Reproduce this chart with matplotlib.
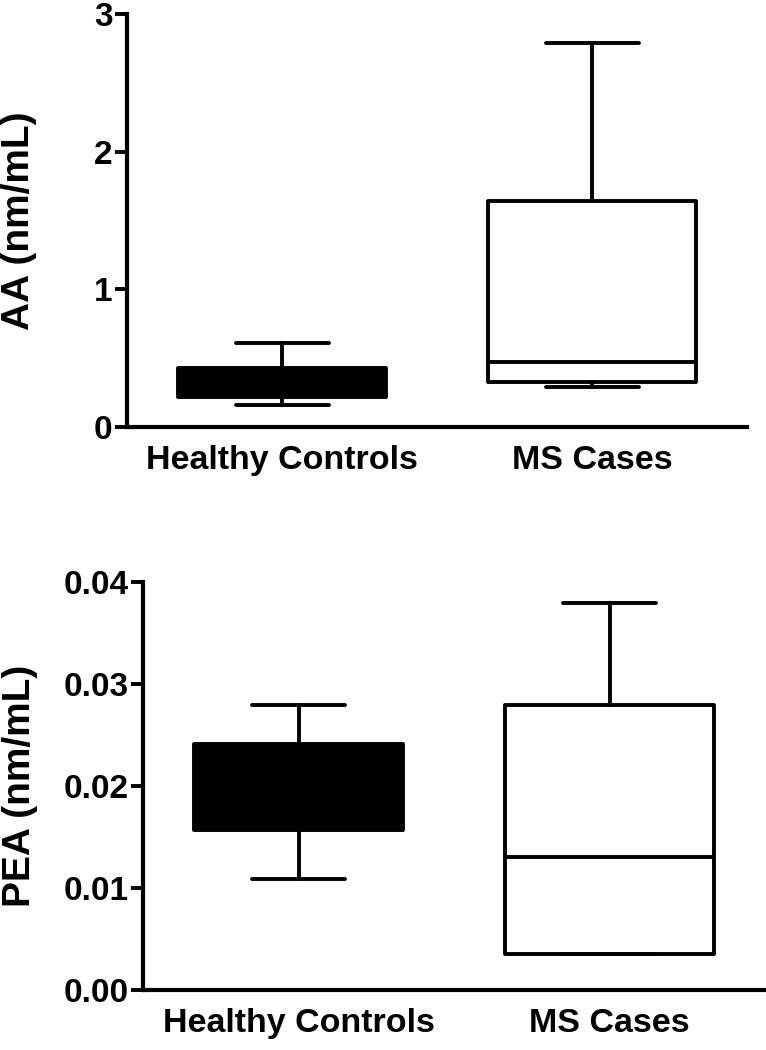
import matplotlib
matplotlib.use("Agg")
import matplotlib.pyplot as plt

plt.rcParams['font.family'] = ['Liberation Sans', 'DejaVu Sans']
plt.rcParams['font.weight'] = 'bold'

categories = ["Healthy Controls", "MS Cases"]

# AA (nm/mL): whisker low, q1, median, q3, whisker high
aa_whislo = [0.16, 0.29]
aa_q1 = [0.22, 0.33]
aa_med = [0.32, 0.47]
aa_q3 = [0.43, 1.64]
aa_whishi = [0.61, 2.79]

# PEA (nm/mL)
pea_whislo = [0.0109, 0.0035]
pea_q1 = [0.0157, 0.0035]
pea_med = [0.020, 0.0130]
pea_q3 = [0.0241, 0.0279]
pea_whishi = [0.0279, 0.0379]

aa_ticks = [0, 1, 2, 3]
aa_ticklabels = ["0", "1", "2", "3"]
pea_ticks = [0.00, 0.01, 0.02, 0.03, 0.04]
pea_ticklabels = ["0.00", "0.01", "0.02", "0.03", "0.04"]

fill_colors = ["black", "white"]

fig = plt.figure(figsize=(7.66, 10.5), dpi=100)
ax1 = fig.add_axes([127/766, 1-427/1050, (747-127)/766, (427-14)/1050])
ax2 = fig.add_axes([143/766, 1-990/1050, (765-143)/766, (990-581.7)/1050])

LW = 2.8

def draw(ax, whislo, q1, med, q3, whishi, ylim, ticks, ticklabels, ylabel, labelx):
    stats = []
    for i, c in enumerate(categories):
        stats.append(dict(label=c, whislo=whislo[i], q1=q1[i], med=med[i],
                          q3=q3[i], whishi=whishi[i], fliers=[]))
    bp = ax.bxp(stats, positions=[0, 1], widths=0.67, patch_artist=True,
                showfliers=False,
                boxprops=dict(linewidth=LW, edgecolor='black', joinstyle='round'),
                whiskerprops=dict(linewidth=LW, color='black'),
                capprops=dict(linewidth=LW, color='black', solid_capstyle='round'),
                medianprops=dict(linewidth=LW, color='black'),
                capwidths=0.3)
    for patch, fc in zip(bp['boxes'], fill_colors):
        patch.set_facecolor(fc)
    ax.set_xlim(-0.5, 1.5)
    ax.set_ylim(*ylim)
    ax.set_yticks(ticks)
    ax.set_yticklabels(ticklabels, fontsize=24, fontweight='bold')
    ax.set_xticks([0, 1])
    ax.set_xticklabels(categories, fontsize=24.5, fontweight='bold')
    ax.tick_params(axis='x', length=0, pad=13)
    ax.tick_params(axis='y', length=8.5, width=LW, pad=2)
    for s in ['top', 'right']:
        ax.spines[s].set_visible(False)
    for s in ['left', 'bottom']:
        ax.spines[s].set_linewidth(3.0)
        ax.spines[s].set_capstyle('projecting')
    ax.set_ylabel(ylabel, fontsize=28, fontweight='bold')
    ax.yaxis.set_label_coords(labelx, 0.5)

draw(ax1, aa_whislo, aa_q1, aa_med, aa_q3, aa_whishi, (0, 3), aa_ticks,
     aa_ticklabels, "AA (nm/mL)", -0.145)
draw(ax2, pea_whislo, pea_q1, pea_med, pea_q3, pea_whishi, (0, 0.04), pea_ticks,
     pea_ticklabels, "PEA (nm/mL)", -0.169)

fig.savefig("out.png", dpi=100)
